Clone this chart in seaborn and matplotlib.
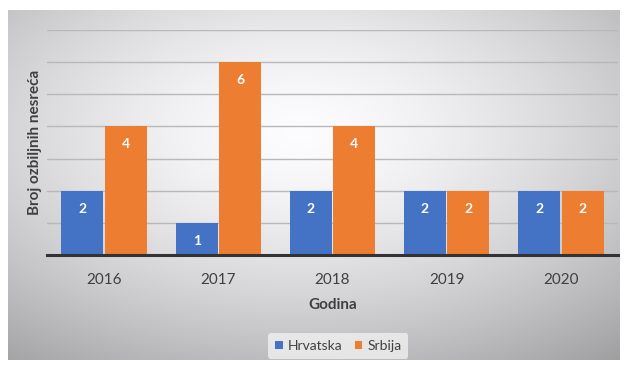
import numpy as np
import pandas as pd
import matplotlib
matplotlib.use("Agg")
import matplotlib.pyplot as plt
import seaborn as sns

years = ["2016", "2017", "2018", "2019", "2020"]
hrvatska = [2, 1, 2, 2, 2]
srbija = [4, 6, 4, 2, 2]
series_names = ["Hrvatska", "Srbija"]
colors = ["#4472C4", "#ED7D31"]

df = pd.DataFrame({
    "Godina": years * 2,
    "Vrijednost": hrvatska + srbija,
    "Zemlja": [series_names[0]] * len(years) + [series_names[1]] * len(years),
})

sns.set_theme(style="white")
plt.rcParams["font.family"] = ["Lato", "DejaVu Sans"]

fig = plt.figure(figsize=(6.25, 3.67), dpi=100)
fig.patch.set_facecolor("white")

# gradient background panel
bg = fig.add_axes([8/625, 1-360/367, 612/625, 350/367])
ny, nx = 200, 350
yy, xx = np.mgrid[-1:1:ny*1j, -1:1:nx*1j]
r = np.sqrt(((xx+0.05)*0.9)**2 + ((yy+0.3)*0.9)**2)
val = 1.0 - 0.2*np.clip(r, 0, 1.6)**1.5
img = np.dstack([val*0.99, val*0.99, val])
bg.imshow(np.clip(img, 0, 1), aspect="auto", extent=[0, 1, 0, 1])
bg.set_axis_off()

ax = fig.add_axes([47/625, 1-255/367, 571/625, 225/367])
ax.patch.set_alpha(0)
sns.barplot(data=df, x="Godina", y="Vrijednost", hue="Zemlja", palette=colors,
            ax=ax, width=0.76, gap=0.03, saturation=1, legend=True, linewidth=0)

ax.set_ylim(0, 7)
ax.set_xlim(-0.5, 4.5)
ax.set_yticks(range(1, 8))
ax.set_yticklabels([])
ax.tick_params(axis="y", length=0)
ax.tick_params(axis="x", length=0, labelsize=11, colors="#404040", pad=13)
ax.grid(axis="y", color="#b8b8b8", linewidth=1)
ax.set_axisbelow(True)
for s in ["top", "right", "left"]:
    ax.spines[s].set_visible(False)
ax.spines["bottom"].set_color("#333333")
ax.spines["bottom"].set_linewidth(2.2)

ax.set_xlabel("Godina", fontsize=11, fontweight="bold", color="#404040", labelpad=8)
ax.set_ylabel("Broj ozbiljnih nesreća", fontsize=11, fontweight="bold", color="#404040", labelpad=0)

for cont in ax.containers:
    for bar in cont:
        h = bar.get_height()
        ax.annotate(f"{int(h)}", (bar.get_x() + bar.get_width()/2, h),
                    xytext=(0, -18), textcoords="offset pixels",
                    ha="center", va="center", color="white",
                    fontsize=10, fontweight="bold")

leg = ax.legend(loc="center", bbox_to_anchor=(0.51, -0.405), ncol=2, frameon=True,
                fontsize=10, handlelength=0.55, handleheight=0.55, handletextpad=0.35,
                columnspacing=0.9, borderpad=0.5)
leg.get_frame().set_facecolor("#f0f0f0")
leg.get_frame().set_edgecolor("none")
for t in leg.get_texts():
    t.set_color("#404040")

fig.savefig("out.png", dpi=100)
